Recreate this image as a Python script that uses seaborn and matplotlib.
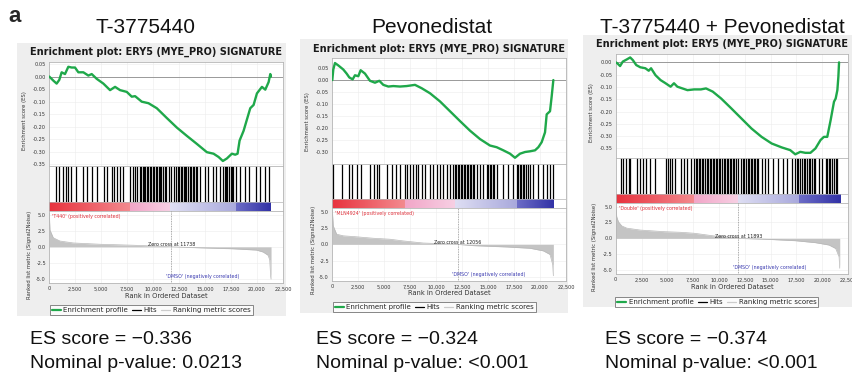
import numpy as np
import pandas as pd
import matplotlib
matplotlib.use("Agg")
import matplotlib.pyplot as plt
import seaborn as sns
from matplotlib.patches import Rectangle
from matplotlib.colors import LinearSegmentedColormap
from matplotlib.lines import Line2D
from matplotlib.ticker import FuncFormatter

# ---------------- data ----------------
headers = ["T-3775440", "Pevonedistat", "T-3775440 + Pevonedistat"]
plot_title = "Enrichment plot: ERY5 (MYE_PRO) SIGNATURE"
pos_labels = ["'T440' (positively correlated)", "'MLN4924' (positively correlated)",
              "'Double' (positively correlated)"]
neg_label = "'DMSO' (negatively correlated)"
zero_cross = [11738, 12056, 11893]
es_scores = ["\u22120.336", "\u22120.324", "\u22120.374"]
p_values = ["0.0213", "<0.001", "<0.001"]
rank_ticks = [0, 2500, 5000, 7500, 10000, 12500, 15000, 17500, 20000, 22500]
metric_ticks = [5.0, 2.5, 0.0, -2.5, -5.0]
es_ticks_1 = [0.05, 0.00, -0.05, -0.10, -0.15, -0.20, -0.25, -0.30, -0.35]
es_ticks_2 = [0.05, 0.00, -0.05, -0.10, -0.15, -0.20, -0.25, -0.30]
es_ticks_3 = [0.00, -0.05, -0.10, -0.15, -0.20, -0.25, -0.30, -0.35]

es1_rank = [0, 386, 707, 964, 1189, 1510, 1832, 2153, 2475, 2796, 3278, 3760, 4082, 4564,
            5207, 5849, 6332, 6814, 7457, 7939, 8260, 8903, 9546, 10349, 11313, 12277,
            13241, 14205, 15170, 15812, 16294, 16712, 17098, 17580, 17901, 18126, 18319,
            18705, 19026, 19348, 19669, 19990, 20472, 20794, 21115, 21276, 21340]
es1_score = [0.0, -0.016, -0.028, -0.013, 0.017, 0.010, 0.039, 0.036, 0.036, 0.017, 0.017,
             0.004, 0.010, -0.009, -0.028, -0.054, -0.041, -0.054, -0.061, -0.080, -0.078,
             -0.100, -0.106, -0.126, -0.165, -0.203, -0.236, -0.268, -0.301, -0.307, -0.320,
             -0.336, -0.326, -0.307, -0.311, -0.307, -0.255, -0.216, -0.171, -0.126, -0.113,
             -0.067, -0.041, -0.052, -0.022, 0.010, 0.0]

es2_rank = [0, 96, 257, 578, 1059, 1380, 1637, 1958, 2183, 2504, 2729, 3146, 3627, 4109,
            4526, 4911, 5393, 5874, 6516, 7158, 7961, 8603, 9405, 10368, 11331, 12294,
            13257, 14220, 15183, 15825, 16467, 17109, 17590, 18072, 18554, 19035, 19517,
            19838, 20159, 20480, 20640, 20961, 21122, 21282]
es2_score = [0.0, 0.044, 0.071, 0.061, 0.044, 0.027, 0.011, 0.003, 0.020, 0.016, 0.041,
             0.027, -0.003, -0.011, -0.003, -0.020, -0.027, -0.025, -0.027, -0.025, -0.020,
             -0.034, -0.055, -0.089, -0.130, -0.171, -0.211, -0.246, -0.273, -0.280, -0.293,
             -0.307, -0.324, -0.307, -0.300, -0.297, -0.293, -0.280, -0.259, -0.218, -0.143,
             -0.130, -0.068, 0.0]

es3_rank = [0, 163, 424, 685, 1077, 1403, 1664, 1990, 2382, 2871, 3198, 3426, 3850, 4340,
            4829, 5318, 5645, 5971, 6461, 6950, 7603, 8255, 8745, 9398, 10213, 11192, 12171,
            13150, 14129, 15108, 16087, 16903, 17392, 17881, 18371, 18860, 19350, 19839,
            20165, 20492, 20818, 21144, 21307, 21470, 21568, 21634]
es3_score = [0.0, -0.004, -0.015, 0.003, 0.012, 0.020, 0.009, -0.011, -0.020, -0.024,
             -0.034, -0.024, -0.052, -0.072, -0.085, -0.099, -0.085, -0.099, -0.106, -0.113,
             -0.110, -0.110, -0.106, -0.119, -0.147, -0.187, -0.228, -0.269, -0.303, -0.330,
             -0.346, -0.357, -0.374, -0.364, -0.368, -0.368, -0.350, -0.316, -0.303, -0.303,
             -0.235, -0.160, -0.147, -0.113, -0.058, 0.0]

hits1 = [641, 962, 1282, 1570, 1827, 2051, 2564, 3205, 3654, 4070, 4551, 5256, 5577, 5993,
         6218, 6538, 6795, 7115, 7756, 8013, 8237, 8397, 8720, 8850, 8990, 9120, 9240, 9400,
         9530, 9650, 9800, 9950, 10100, 10230, 10380, 10520, 10680, 10800, 10950, 11100,
         11282, 11538, 11762, 11987, 12243, 12380, 12520, 12650, 12800, 12950, 13080, 13205,
         13365, 13520, 13650, 13800, 13950, 14100, 14250, 14487, 14968, 15288, 15769, 16089,
         16474, 16731, 16880, 17010, 17150, 17300, 17450, 17600, 17692, 18019, 18340, 18813,
         19230, 19935, 20256, 20737, 21153]
hits2 = [32, 899, 1637, 1862, 2343, 2729, 3627, 4013, 4334, 4526, 5232, 5714, 6131, 6516,
         6998, 7158, 7479, 7800, 8057, 8282, 8603, 8924, 9405, 9726, 10047, 10368, 10689,
         11010, 11331, 11652, 11813, 11950, 12090, 12230, 12380, 12520, 12660, 12800, 12950,
         13090, 13230, 13380, 13520, 13680, 13899, 14220, 14541, 14862, 15000, 15150, 15300,
         15450, 15600, 15825, 16467, 16949, 17430, 17751, 17900, 18050, 18200, 18350, 18500,
         18650, 18800, 19035, 19356, 19838, 20319, 20640, 20961, 21218]
hits3 = [489, 750, 1012, 1240, 1403, 2056, 2317, 2643, 2969, 3361, 3850, 4829, 5058, 5253,
         5482, 5710, 6297, 6624, 6885, 7276, 7603, 7766, 7900, 8050, 8200, 8350, 8500, 8650,
         8800, 8950, 9100, 9250, 9400, 9550, 9700, 9850, 10000, 10150, 10300, 10450, 10600,
         10750, 10900, 11050, 11200, 11350, 11500, 11650, 11845, 12171, 12320, 12470, 12620,
         12770, 12920, 13070, 13220, 13370, 13520, 13660, 13803, 14129, 14456, 14782, 15271,
         15761, 16250, 16576, 17066, 17392, 17550, 17700, 17850, 18044, 18207, 18360, 18520,
         18680, 18840, 19000, 19170, 19350, 19676, 20002, 20329, 20480, 20640, 20800, 20960,
         21130, 21307, 21470]

rk1_rank = [0, 64, 385, 1026, 2308, 4872, 8077, 11282, 11738, 14487, 17692, 19935, 20577,
            21057, 21218, 21314, 21350]
rk1_metric = [5.2, 2.6, 1.4, 0.9, 0.6, 0.4, 0.25, 0.05, 0.0, -0.15, -0.3, -0.5, -0.8, -1.3,
              -2.0, -4.6, -5.0]
rk2_rank = [0, 96, 417, 1059, 2343, 3948, 5553, 6837, 8763, 11331, 12056, 13578, 16788,
            19035, 20319, 20961, 21218, 21282]
rk2_metric = [5.2, 2.8, 1.55, 1.3, 1.15, 0.93, 0.78, 0.52, 0.2, 0.05, 0.0, -0.2, -0.4, -0.6,
              -1.0, -1.55, -3.1, -4.8]
rk3_rank = [0, 98, 261, 587, 1077, 2382, 4666, 6297, 7603, 9561, 11519, 11893, 14782, 17392,
            19350, 20655, 21307, 21634, 21700]
rk3_metric = [5.2, 3.4, 2.6, 1.95, 1.6, 1.3, 1.05, 0.95, 0.8, 0.37, 0.16, 0.0, -0.16, -0.37,
              -0.68, -1.05, -1.6, -2.9, -4.7]

# colour-bar blocks: (start rank, end rank)
bars1 = [(0, 7756), (7756, 11600), (11600, 18019), (18019, 21380)]
bars2 = [(0, 7000), (7000, 11813), (11813, 17751), (17751, 21282)]
bars3 = [(0, 7603), (7603, 11845), (11845, 17718), (17718, 21700)]

# ---------------- style / layout ----------------
W, H = 853, 376
GREEN = "#1fa84a"
BAR_COLORS = [("#e8323e", "#f38a8e"), ("#f2a6c8", "#f7cfe3"),
              ("#dedef3", "#a9a9dc"), ("#6c6cc6", "#3232a6")]
SANS = ["Liberation Sans", "DejaVu Sans"]

sns.set_theme(style="white")
plt.rcParams['font.family'] = ['DejaVu Sans']

fig = plt.figure(figsize=(W / 100, H / 100), dpi=100)
fig.patch.set_facecolor("white")


def frac(x0, y0, x1, y1):
    return [x0 / W, 1 - y1 / H, (x1 - x0) / W, (y1 - y0) / H]


layouts = [
    dict(bg=(17, 43, 286, 316), title_y=52, xl=49.3, xr=283, es=(62, 166), hit=(166, 211),
         rk=(211, 283), xlab_y=296, leg_y=310, es_ylim=(-0.356, 0.058), ylab_x=(25, 30),
         ylab_y=(121, 255)),
    dict(bg=(300, 39, 568, 313), title_y=49, xl=332.3, xr=566, es=(58, 164), hit=(164, 208),
         rk=(208, 281), xlab_y=293, leg_y=307, es_ylim=(-0.35, 0.092), ylab_x=(308, 313),
         ylab_y=(122, 250)),
    dict(bg=(583, 35, 852, 307), title_y=44, xl=615.7, xr=848, es=(54, 158), hit=(158, 203),
         rk=(203, 274), xlab_y=287, leg_y=302, es_ylim=(-0.389, 0.034), ylab_x=(592, 595),
         ylab_y=(113, 247)),
]

panels = [
    (es1_rank, es1_score, hits1, rk1_rank, rk1_metric, bars1, es_ticks_1),
    (es2_rank, es2_score, hits2, rk2_rank, rk2_metric, bars2, es_ticks_2),
    (es3_rank, es3_score, hits3, rk3_rank, rk3_metric, bars3, es_ticks_3),
]

TICK_FS = 3.6
grad = np.linspace(0, 1, 64)[None, :]


def style_axes(ax):
    for s in ax.spines.values():
        s.set_color("#b5b5b5")
        s.set_linewidth(0.6)
    ax.tick_params(axis="both", labelsize=TICK_FS, length=1.2, width=0.4, pad=1.2,
                   colors="#333333")
    ax.grid(True, color="#ececec", lw=0.4)
    ax.set_axisbelow(True)


for i, (lay, pan) in enumerate(zip(layouts, panels)):
    es_r, es_s, hits, rk_r, rk_m, bars, es_ticks = pan
    xl, xr = lay["xl"], lay["xr"]

    # grey panel background
    bx0, by0, bx1, by1 = lay["bg"]
    fig.add_artist(Rectangle((bx0 / W, 1 - by1 / H), (bx1 - bx0) / W, (by1 - by0) / H,
                             transform=fig.transFigure, facecolor="#eeeeee",
                             edgecolor="none", zorder=-5))
    fig.text(((xl + xr) / 2 - 10) / W, 1 - lay["title_y"] / H, plot_title, ha="center",
             va="center", fontsize=7, fontweight="bold", color="#1a1a1a")

    # --- enrichment score ---
    ax = fig.add_axes(frac(xl, lay["es"][0], xr, lay["es"][1]))
    ax.set_facecolor("white")
    df = pd.DataFrame({"rank": es_r, "es": es_s})
    ax.axhline(0, color="#9a9a9a", lw=0.7, zorder=1)
    sns.lineplot(data=df, x="rank", y="es", ax=ax, color=GREEN, lw=1.7, sort=False,
                 zorder=3)
    ax.set_xlim(0, 22500)
    ax.set_ylim(*lay["es_ylim"])
    ax.set_xticks(rank_ticks)
    ax.set_xticklabels([])
    ax.set_yticks(es_ticks)
    ax.yaxis.set_major_formatter(FuncFormatter(lambda v, _: f"{v:.2f}"))
    ax.set_xlabel("")
    ax.set_ylabel("")
    style_axes(ax)
    ax.tick_params(axis="x", length=0)
    fig.text(lay["ylab_x"][0] / W, 1 - lay["ylab_y"][0] / H, "Enrichment score (ES)",
             rotation=90, ha="center", va="center", fontsize=3.8, color="#333333")

    # --- hits + colour bar ---
    axh = fig.add_axes(frac(xl, lay["hit"][0], xr, lay["hit"][1]))
    axh.set_facecolor("white")
    bar_top = 0.2
    axh.vlines(hits, bar_top, 1.0, color="black", lw=0.9)
    for (s, e), (c0, c1) in zip(bars, BAR_COLORS):
        cm = LinearSegmentedColormap.from_list("seg", [c0, c1])
        axh.imshow(grad, extent=(s, e, 0, bar_top), aspect="auto", cmap=cm,
                   interpolation="bilinear", zorder=2)
    axh.axhline(bar_top, color="#b5b5b5", lw=0.5)
    axh.set_xlim(0, 22500)
    axh.set_ylim(0, 1)
    axh.set_xticks([])
    axh.set_yticks([])
    for s in axh.spines.values():
        s.set_color("#b5b5b5")
        s.set_linewidth(0.6)

    # --- ranked list metric ---
    axr = fig.add_axes(frac(xl, lay["rk"][0], xr, lay["rk"][1]))
    axr.set_facecolor("white")
    dfr = pd.DataFrame({"rank": rk_r, "metric": rk_m})
    axr.fill_between(dfr["rank"], dfr["metric"], 0, color="#c4c4c4", lw=0, zorder=2)
    sns.lineplot(data=dfr, x="rank", y="metric", ax=axr, color="#b8b8b8", lw=0.5,
                 sort=False, zorder=2)
    zc = zero_cross[i]
    axr.axvline(zc, color="#7a7a7a", lw=0.5, ls=(0, (1.2, 1.2)), zorder=3)
    axr.set_xlim(0, 22500)
    axr.set_ylim(-5.6, 5.55)
    axr.set_xticks(rank_ticks)
    axr.set_xticklabels([f"{t:,}" for t in rank_ticks])
    axr.set_yticks(metric_ticks)
    axr.yaxis.set_major_formatter(FuncFormatter(lambda v, _: f"{v:.1f}"))
    axr.set_xlabel("")
    axr.set_ylabel("")
    style_axes(axr)
    axr.text(300, 4.75, pos_labels[i], color="#e0303a", fontsize=3.4, va="center",
             ha="left")
    axr.text(zc, 0.35, f"Zero cross at {zc}", color="#222222", fontsize=3.4, va="center",
             ha="center", zorder=4)
    axr.text(zc - 500, -4.55, neg_label, color="#3a3ab0", fontsize=3.4, va="center",
             ha="left")
    fig.text((xl + xr) / 2 / W, 1 - lay["xlab_y"] / H, "Rank in Ordered Dataset",
             ha="center", va="center", fontsize=4.8, color="#333333")
    fig.text(lay["ylab_x"][1] / W, 1 - lay["ylab_y"][1] / H,
             "Ranked list metric (Signal2Noise)", rotation=90, ha="center", va="center",
             fontsize=3.8, color="#333333")

    handles = [Line2D([], [], color=GREEN, lw=1.6),
               Line2D([], [], color="black", lw=0.9),
               Line2D([], [], color="#cccccc", lw=0.9)]
    leg = axr.legend(handles, ["Enrichment profile", "Hits", "Ranking metric scores"],
                     loc="center", bbox_to_anchor=(((xl + xr) / 2 - 15) / W,
                                                   1 - lay["leg_y"] / H),
                     bbox_transform=fig.transFigure, ncol=3, fontsize=5.0,
                     handlelength=1.3, handletextpad=0.35, columnspacing=0.6,
                     borderpad=0.3, frameon=True, fancybox=False)
    leg.get_frame().set_edgecolor("#555555")
    leg.get_frame().set_linewidth(0.6)

# ---------------- figure text ----------------
fig.text(8 / W, 1 - 22 / H, "a", fontsize=16, fontweight="bold", family=SANS,
         ha="left", va="baseline")
header_cx = [145, 432, 722]
for cx, h in zip(header_cx, headers):
    fig.text(cx / W, 1 - 33 / H, h, fontsize=15, family=SANS, ha="center", va="baseline",
             color="#111111")

text_x = [30, 316, 605]
for tx, es, pv in zip(text_x, es_scores, p_values):
    fig.text(tx / W, 1 - 344 / H, f"ES score = {es}", fontsize=14, family=SANS,
             ha="left", va="baseline", color="#111111")
    fig.text(tx / W, 1 - 368 / H, f"Nominal p-value: {pv}", fontsize=14, family=SANS,
             ha="left", va="baseline", color="#111111")

fig.savefig("out.png", dpi=100, facecolor="white")
